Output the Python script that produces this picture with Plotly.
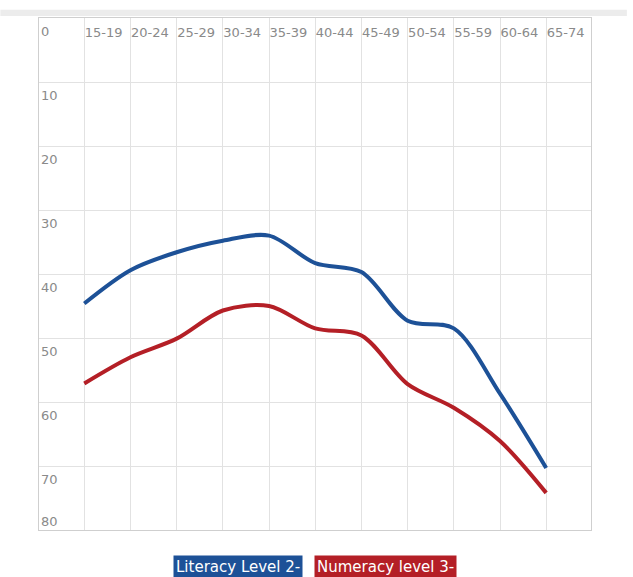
import plotly.graph_objects as go

# Age groups and shares (%) below each proficiency threshold
age_groups = ["15-19", "20-24", "25-29", "30-34", "35-39", "40-44",
              "45-49", "50-54", "55-59", "60-64", "65-74"]
literacy_level2 = [44.6, 39.4, 36.6, 34.8, 34.0, 38.3, 39.7, 47.3, 48.5, 58.7, 70.3]
numeracy_level3 = [57.1, 53.0, 50.1, 45.7, 45.0, 48.5, 49.6, 57.2, 60.9, 66.1, 74.2]

y_ticks = [0, 10, 20, 30, 40, 50, 60, 70, 80]

BLUE = "#1d5197"
RED = "#b41f26"
FONT = "DejaVu Sans, sans-serif"
GRID = "#e2e2e2"
LABEL = "#8a8a8a"

fig = go.Figure()
fig.add_trace(go.Scatter(
    x=age_groups, y=literacy_level2, mode="lines", name="Literacy Level 2-",
    line=dict(color=BLUE, width=4, shape="spline", smoothing=0.9),
))
fig.add_trace(go.Scatter(
    x=age_groups, y=numeracy_level3, mode="lines", name="Numeracy level 3-",
    line=dict(color=RED, width=4, shape="spline", smoothing=0.9),
))

# Value labels for the y axis sit inside the frame, under each gridline
annotations = []
for v in y_ticks:
    last = v == y_ticks[-1]
    annotations.append(dict(
        x=0, xref="paper", xanchor="left", xshift=0,
        y=v, yref="y", yanchor="bottom" if last else "top",
        yshift=-1 if last else -4,
        text=str(v), showarrow=False,
        font=dict(family=FONT, size=13, color=LABEL),
    ))

# Legend boxes below the chart
for label, color, xc in [("Literacy Level 2-", BLUE, 0.3605),
                         ("Numeracy level 3-", RED, 0.627)]:
    annotations.append(dict(
        x=xc, xref="paper", xanchor="center",
        y=0, yref="paper", yanchor="top", yshift=-25,
        text=label, showarrow=False, bgcolor=color, borderpad=2,
        font=dict(family=FONT, size=15, color="white"),
    ))

fig.update_layout(
    width=633, height=577,
    margin=dict(l=39, r=42, t=18, b=47),
    paper_bgcolor="white", plot_bgcolor="white",
    showlegend=False,
    annotations=annotations,
    shapes=[dict(type="rect", xref="paper", yref="paper",
                 x0=-0.07, x1=1.065, y0=1.004, y1=1.016,
                 fillcolor="#ececec", line=dict(width=0), layer="below")],
)

fig.update_xaxes(
    type="category", side="top", range=[-0.98, 10.97],
    showgrid=True, gridcolor=GRID, gridwidth=1,
    showline=True, linecolor="#cfcfcf", linewidth=1, mirror=True,
    ticks="", ticklabelposition="inside right", ticklabelstandoff=7,
    tickangle=0,
    tickfont=dict(family=FONT, size=13, color=LABEL),
    zeroline=False,
)
fig.update_yaxes(
    range=[80, 0], tickvals=y_ticks, showticklabels=False,
    showgrid=True, gridcolor=GRID, gridwidth=1,
    showline=True, linecolor="#cfcfcf", linewidth=1, mirror=True,
    ticks="", zeroline=False,
)

fig.write_html("out.html")
